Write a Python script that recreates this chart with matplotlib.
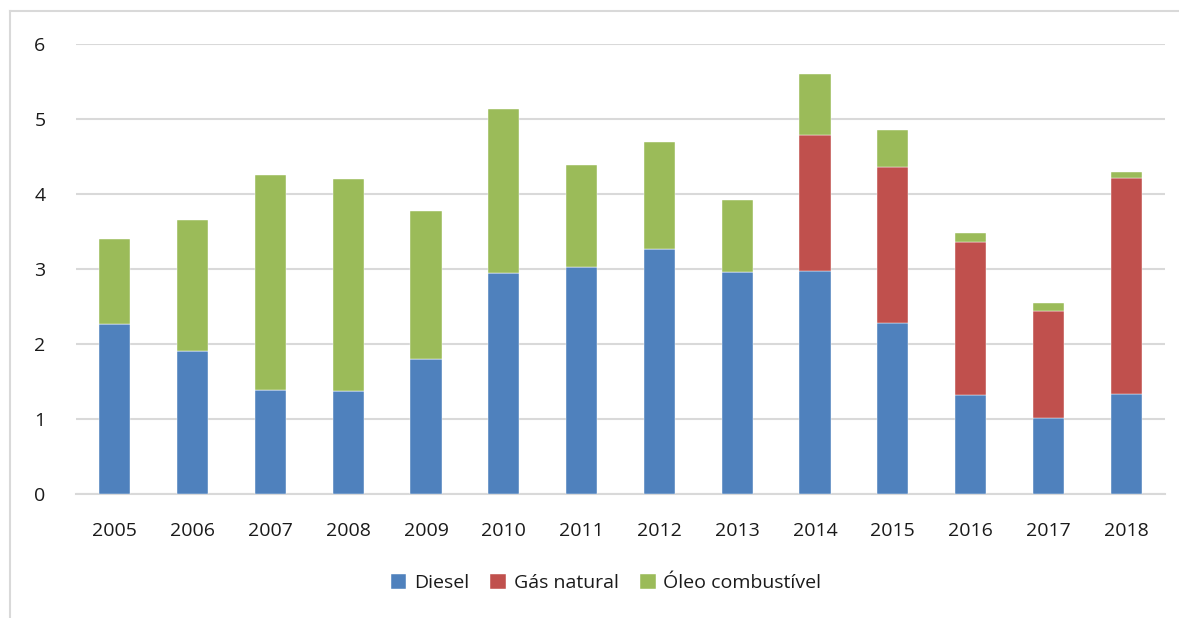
import matplotlib
matplotlib.use("Agg")
import matplotlib.pyplot as plt
from matplotlib.lines import Line2D
import numpy as np

years = ["2005", "2006", "2007", "2008", "2009", "2010", "2011", "2012", "2013", "2014", "2015", "2016", "2017", "2018"]
diesel = [2.27, 1.91, 1.39, 1.37, 1.80, 2.95, 3.03, 3.27, 2.96, 2.97, 2.28, 1.32, 1.01, 1.33]
gas_natural = [0, 0, 0, 0, 0, 0, 0, 0, 0, 1.82, 2.08, 2.04, 1.43, 2.88]
oleo = [1.13, 1.74, 2.86, 2.83, 1.97, 2.18, 1.36, 1.42, 0.96, 0.81, 0.49, 0.12, 0.11, 0.08]
series_names = ["Diesel", "Gás natural", "Óleo combustível"]
colors = ["#4F81BD", "#C0504D", "#9BBB59"]
yticks = [0, 1, 2, 3, 4, 5, 6]

plt.rcParams['font.family'] = ['Open Sans', 'DejaVu Sans']

fig = plt.figure(figsize=(11.79, 6.18), dpi=100)
ax = fig.add_axes([76/1179, 1 - 494/618, (1165-76)/1179, (494-44)/618])

x = np.arange(len(years))
w = 0.4
d = np.array(diesel)
g = np.array(gas_natural)
o = np.array(oleo)
ax.bar(x, d, w, color=colors[0], label=series_names[0], zorder=3, edgecolor='white', linewidth=0.3)
ax.bar(x, g, w, bottom=d, color=colors[1], label=series_names[1], zorder=3, edgecolor='white', linewidth=0.3)
ax.bar(x, o, w, bottom=d + g, color=colors[2], label=series_names[2], zorder=3, edgecolor='white', linewidth=0.3)

ax.set_xlim(-0.5, len(years) - 0.5)
ax.set_ylim(0, 6)
ax.set_yticks(yticks)
ax.set_yticklabels([str(v) for v in yticks])
ax.set_xticks(x)
ax.set_xticklabels(years)
ax.yaxis.grid(True, color='#D9D9D9', linewidth=1.5, zorder=0)
ax.set_axisbelow(True)
for s in ['top', 'right', 'left']:
    ax.spines[s].set_visible(False)
ax.spines['bottom'].set_color('#D9D9D9')
ax.spines['bottom'].set_linewidth(1.5)
ax.tick_params(axis='both', length=0, labelsize=14, colors='#1a1a1a')
ax.tick_params(axis='y', pad=22)
ax.tick_params(axis='x', pad=20)

leg = fig.legend(loc='center', bbox_to_anchor=(606/1179, 1 - 583/618), ncol=3, frameon=False,
                 fontsize=14, handlelength=0.8, handleheight=0.8, columnspacing=1.1, handletextpad=0.4)
for t in leg.get_texts():
    t.set_color('#1a1a1a')

# outer frame
fig.add_artist(Line2D([10/1179, 10/1179], [0, 1 - 11/618], transform=fig.transFigure, color='#D9D9D9', linewidth=1.5))
fig.add_artist(Line2D([10/1179, 1], [1 - 11/618, 1 - 11/618], transform=fig.transFigure, color='#D9D9D9', linewidth=1.5))

fig.savefig("out.png", dpi=100)
